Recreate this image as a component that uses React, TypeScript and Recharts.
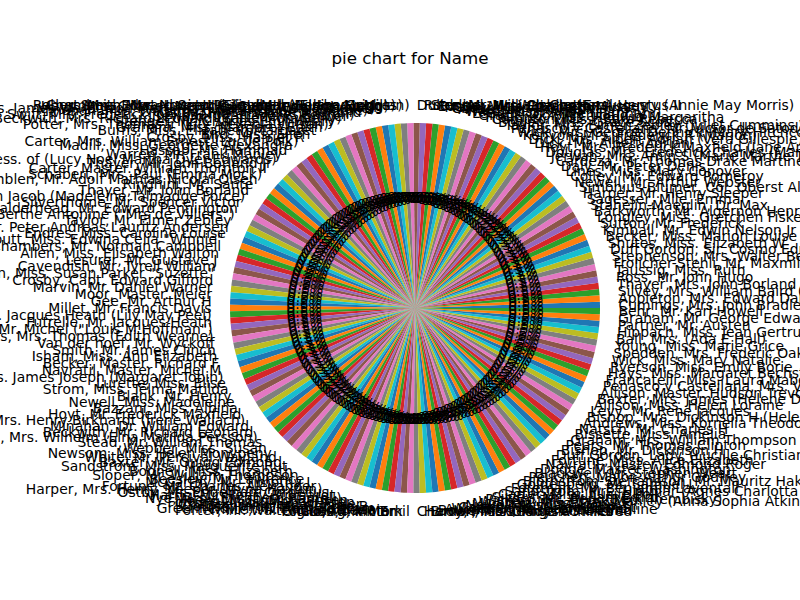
import { PieChart, Pie, Cell } from "recharts";

// passenger names, in the order the slices run (counter-clockwise from 3 o'clock)
const names: string[] = [
  "Cumings, Mrs. John Bradley (Florence Briggs Thayer)",
  "Appleton, Mrs. Edward Dale (Charlotte Lamson)",
  "Silvey, Mrs. William Baird (Alice Munger)",
  "Thayer, Mrs. John Borland (Marian Longstreth Morris)",
  "Ross, Mr. John Hugo",
  "Taussig, Miss. Ruth",
  "Frolicher-Stehli, Mr. Maxmillian",
  "Stephenson, Mrs. Walter Bertram (Martha Eustis)",
  "Duff Gordon, Sir. Cosmo Edmund (\"Mr Morgan\")",
  "Shutes, Miss. Elizabeth W",
  "Becker, Miss. Marion Louise",
  "Kimball, Mr. Edwin Nelson Jr",
  "Sutton, Mr. Frederick",
  "Longley, Miss. Gretchen Fiske",
  "Barkworth, Mr. Algernon Henry Wilson",
  "Stahelin-Maeglin, Dr. Max",
  "Sagesser, Mlle. Emma",
  "Harper, Mr. Henry Sleeper",
  "Simonius-Blumer, Col. Oberst Alfons",
  "Newell, Mr. Arthur Webster",
  "Colley, Mr. Edward Pomeroy",
  "Lines, Miss. Mary Conover",
  "Daly, Mr. Peter Denis",
  "Cardeza, Mr. Thomas Drake Martinez",
  "Jerwan, Mrs. Amin S (Marie Marthe Thuillard)",
  "Douglas, Mrs. Frederick Charles (Mary Helene Baxter)",
  "Hoyt, Mrs. Frederick Maxfield (Jane Anne Forby)",
  "Dick, Mr. Albert Adrian",
  "Dick, Mrs. Albert Adrian (Vera Gillespie)",
  "Kenyon, Mrs. Frederick R (Marion)",
  "Wick, Mrs. George Dennick (Mary Hitchcock)",
  "Penasco y Castellana, Mr. Victor de Satode",
  "Taylor, Mrs. Elmer Zebley (Juliet Cummins Wright)",
  "Bowen, Miss. Grace Scott",
  "Compton, Miss. Sara Rebecca",
  "Frolicher, Miss. Hedwig Margaritha",
  "Gracie, Col. Archibald IV",
  "Leader, Dr. Alice (Farnham)",
  "Ward, Miss. Anna",
  "Anderson, Mr. Harry",
  "Chevre, Mr. Paul Romaine",
  "Maioni, Miss. Roberta",
  "Eustis, Miss. Elizabeth Mussey",
  "Stengel, Mrs. Charles Emil Henry (Annie May Morris)",
  "Roebling, Mr. Washington Augustus II",
  "Dulles, Mr. William Crothers",
  "Robert, Mrs. Edward Scott (Elisabeth Walton McMillan)",
  "Smith, Mrs. Lucien Philip (Mary Eloise Hughes)",
  "Chambers, Mrs. Norman Campbell (Bertha Griggs)",
  "Hays, Mrs. Charles Melville (Clara Jennings Gregg)",
  "Kent, Mr. Edward Austin",
  "Cardeza, Mrs. James Warburton Martinez (Charlotte Wardle Drake)",
  "Minahan, Mrs. William Edward (Lillian E Thorpe)",
  "Ostby, Miss. Helene Ragnhild",
  "Swift, Mrs. Frederick Joel (Margaret Welles Barron)",
  "Seward, Mr. Frederic Kimber",
  "Beckwith, Mrs. Richard Leonard (Sallie Monypeny)",
  "Stengel, Mr. Charles Emil Henry",
  "Potter, Mrs. Thomas Jr (Lily Alexenia Wilson)",
  "Graham, Miss. Margaret Edith",
  "Burns, Miss. Elizabeth Margaret",
  "Bird, Miss. Ellen",
  "Crosby, Miss. Harriet R",
  "Carter, Mrs. William Ernest (Lucile Polk)",
  "Madill, Miss. Georgette Alexandra",
  "Hassab, Mr. Hammad",
  "Warren, Mr. Frank Manley",
  "Rothes, the Countess. of (Lucy Noel Martha Dyer-Edwards)",
  "Thayer, Mr. John Borland Jr",
  "Carter, Master. William Thornton II",
  "Schabert, Mrs. Paul (Emma Mock)",
  "Humblen, Mr. Adolf Mathias Nicolai Olsen",
  "Ringhini, Mr. Sante",
  "Thayer, Mr. John Borland",
  "Astor, Mrs. John Jacob (Madeleine Talmadge Force)",
  "Silverthorne, Mr. Spencer Victor",
  "Calderhead, Mr. Edward Pennington",
  "Mayne, Mlle. Berthe Antonine (\"Mrs de Villiers\")",
  "Taylor, Mr. Elmer Zebley",
  "Hansen, Mr. Peter Andreas Lauritz Andersen",
  "Endres, Miss. Caroline Louise",
  "Troutt, Miss. Edwina Celia \"Winnie\"",
  "Chambers, Mr. Norman Campbell",
  "Allen, Miss. Elisabeth Walton",
  "Lesurer, Mr. Gustave J",
  "Cavendish, Mr. Tyrell William",
  "Ryerson, Miss. Susan Parker \"Suzette\"",
  "Crosby, Capt. Edward Gifford",
  "Marvin, Mr. Daniel Warner",
  "Moor, Master. Meier",
  "Gee, Mr. Arthur H",
  "Millet, Mr. Francis Davis",
  "Futrelle, Mrs. Jacques Heath (Lily May Peel)",
  "Futrelle, Mr. Jacques Heath",
  "Navratil, Mr. Michel (\"Louis M Hoffman\")",
  "Pears, Mrs. Thomas (Edith Wearne)",
  "Van der hoef, Mr. Wyckoff",
  "Smith, Mr. James Clinch",
  "Isham, Miss. Ann Elizabeth",
  "Becker, Master. Richard F",
  "Navratil, Master. Michel M",
  "Brown, Mrs. James Joseph (Margaret Tobin)",
  "Lurette, Miss. Elise",
  "Strom, Miss. Telma Matilda",
  "Blank, Mr. Henry",
  "Newell, Miss. Madeleine",
  "Bazzani, Miss. Albina",
  "Hoyt, Mr. Frederick Maxfield",
  "Harris, Mrs. Henry Birkhardt (Irene Wallach)",
  "Minahan, Dr. William Edward",
  "Beckwith, Mr. Richard Leonard",
  "Strom, Mrs. Wilhelm (Elna Matilda Persson)",
  "Stead, Mr. William Thomas",
  "Webber, Miss. Susan",
  "Newsom, Miss. Helen Monypeny",
  "White, Mr. Percival Wayland",
  "Baxter, Mr. Quigg Edmond",
  "Sandstrom, Miss. Marguerite Rut",
  "Bonnell, Miss. Elizabeth",
  "Sloper, Mr. William Thompson",
  "Beesley, Mr. Lawrence",
  "McCarthy, Mr. Timothy J",
  "Fortune, Mr. Charles Alexander",
  "Harper, Mrs. Henry Sleeper (Myna Haxtun)",
  "Ostby, Mr. Engelhart Cornelius",
  "Harris, Mr. Henry Birkhardt",
  "Nye, Mrs. (Elizabeth Ramell)",
  "Moen, Mr. Sigurd Hansen",
  "Fortune, Miss. Mabel Helen",
  "Chaffee, Mr. Herbert Fuller",
  "Goldschmidt, Mr. George B",
  "Greenfield, Mr. William Bertram",
  "White, Mr. Richard Frasar",
  "Porter, Mr. Walter Chamberlain",
  "Giglio, Mr. Victor",
  "Fortune, Mr. Mark",
  "Taussig, Mr. Emil",
  "Cherry, Miss. Gladys",
  "Harder, Mr. George Achilles",
  "Brown, Miss. Amelia \"Mildred\"",
  "Bowerman, Miss. Elsie Edith",
  "Aubart, Mme. Leontine Pauline",
  "Widener, Mr. Harry Elkins",
  "Carter, Mr. William Ernest",
  "Newell, Miss. Marjorie",
  "Minahan, Miss. Daisy E",
  "Warren, Mrs. Frank Manley (Anna Sophia Atkinson)",
  "Pickard, Mr. Berk (Berk Trembisky)",
  "Silvey, Mr. William Baird",
  "Carter, Miss. Lucile Polk",
  "Sandstrom, Mrs. Hjalmar (Agnes Charlotta Bengtsson)",
  "Foreman, Mr. Benjamin Laventall",
  "Goldenberg, Mr. Samuel L",
  "Bjornstrom-Steffansson, Mr. Mauritz Hakan",
  "Peuchen, Major. Arthur Godfrey",
  "Blackwell, Mr. Stephen Weart",
  "Dodge, Master. Washington",
  "Navratil, Master. Edmond Roger",
  "Fortune, Miss. Alice Elizabeth",
  "Duff Gordon, Lady. (Lucille Christiana Sutherland) (\"Mrs Morgan\")",
  "Bishop, Mr. Dickinson H",
  "Pears, Mr. Thomas Clinton",
  "Graham, Mrs. William Thompson (Edith Junkins)",
  "Bissette, Miss. Amelia",
  "Natsch, Mr. Charles H",
  "Andrews, Miss. Kornelia Theodosia",
  "Bishop, Mrs. Dickinson H (Helen Walton)",
  "Levy, Mr. Rene Jacques",
  "Allison, Miss. Helen Loraine",
  "Baxter, Mrs. James (Helene DeLaudeniere Chaput)",
  "Allison, Master. Hudson Trevor",
  "Penasco y Castellana, Mrs. Victor de Satode (Maria Josefa Perez de Soto y Vallejo)",
  "Francatelli, Miss. Laura Mabel",
  "Hays, Miss. Margaret Bechstein",
  "Ryerson, Miss. Emily Borie",
  "Wick, Miss. Mary Natalie",
  "Spedden, Mrs. Frederic Oakley (Margaretta Corning Stone)",
  "Young, Miss. Marie Grice",
  "Ball, Mrs. (Ada E Hall)",
  "Hippach, Miss. Jean Gertrude",
  "Partner, Mr. Austen",
  "Graham, Mr. George Edward",
  "Behr, Mr. Karl Howell",
];

// every name occurs once
const counts: number[] = names.map(() => 1);

const palette = [
  "#1f77b4", "#ff7f0e", "#2ca02c", "#d62728", "#9467bd",
  "#8c564b", "#e377c2", "#7f7f7f", "#bcbd22", "#17becf",
];

const data = names.map((name, i) => ({ name, value: counts[i] }));

const RADIAN = Math.PI / 180;
const FONT = "'DejaVu Sans', sans-serif";

const renderLabel = (props: any) => {
  const { cx, cy, midAngle, outerRadius, percent, name } = props;
  const cos = Math.cos(-midAngle * RADIAN);
  const sin = Math.sin(-midAngle * RADIAN);
  const lx = cx + outerRadius * 1.1 * cos;
  const ly = cy + outerRadius * 1.1 * sin;
  const px = cx + outerRadius * 0.6 * cos;
  const py = cy + outerRadius * 0.6 * sin;
  return (
    <g>
      <text
        x={lx}
        y={ly}
        textAnchor={lx > cx ? "start" : "end"}
        dominantBaseline="central"
        fill="#000"
        fontSize={13.9}
        fontFamily={FONT}
      >
        {name}
      </text>
      <text
        x={px}
        y={py}
        textAnchor="middle"
        dominantBaseline="central"
        fill="#000"
        fontSize={13.9}
        fontFamily={FONT}
      >
        {`${(percent * 100).toFixed(1)}%`}
      </text>
    </g>
  );
};

export default function App() {
  return (
    <div style={{ position: "absolute", left: 0, top: 0, width: 800, height: 600, background: "#fff" }}>
      <PieChart width={800} height={600}>
        <text
          x={410}
          y={64}
          textAnchor="middle"
          fontSize={16.7}
          fontFamily={FONT}
          fill="#000"
        >
          pie chart for Name
        </text>
        <Pie
          data={data}
          dataKey="value"
          nameKey="name"
          cx={410}
          cy={303}
          outerRadius={185}
          startAngle={0}
          endAngle={360}
          stroke="none"
          label={renderLabel}
          labelLine={false}
          isAnimationActive={false}
        >
          {data.map((d, i) => (
            <Cell key={d.name} fill={palette[i % palette.length]} />
          ))}
        </Pie>
      </PieChart>
    </div>
  );
}
